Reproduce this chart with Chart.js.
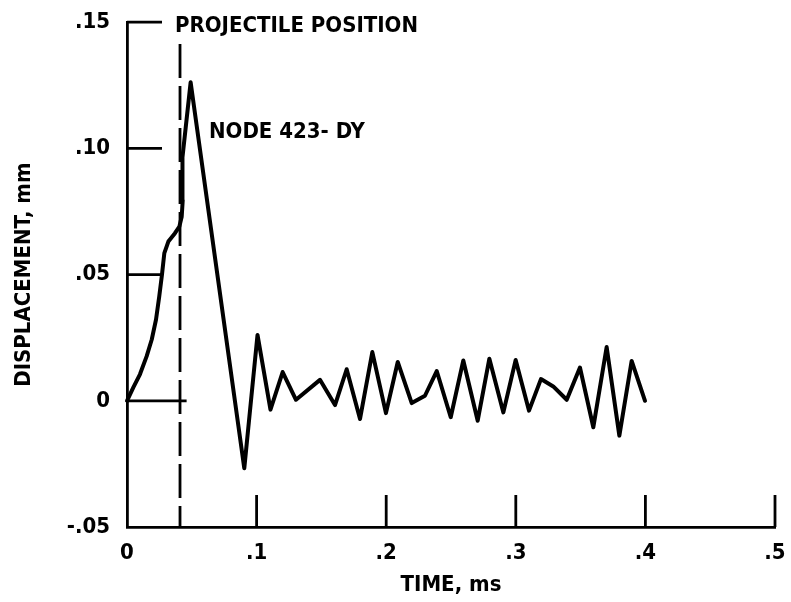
<!DOCTYPE html>
<html>
<head>
<meta charset="utf-8">
<script src="https://cdn.jsdelivr.net/npm/chart.js@4.4.1/dist/chart.umd.min.js"></script>
<style>
html,body{margin:0;padding:0;background:#fff;}
#wrap{width:791px;height:602px;position:relative;}
</style>
</head>
<body>
<div id="wrap"><canvas id="c" width="791" height="602"></canvas></div>
<script>
// ---- data ----
const timeMs = [0, 0.0049, 0.0100, 0.0152, 0.0191, 0.0224, 0.0249, 0.0270, 0.0288, 0.0319, 0.0370, 0.0404, 0.0422, 0.0430, 0.0428, 0.0491,
  0.0905, 0.1007, 0.1107, 0.1201, 0.1304, 0.1489, 0.1605, 0.1695, 0.1798, 0.1893, 0.1998, 0.2089, 0.2197, 0.2299,
  0.2390, 0.2498, 0.2595, 0.2706, 0.2796, 0.2904, 0.2999, 0.3102, 0.3194, 0.3289, 0.3393, 0.3495, 0.3598, 0.3701,
  0.3799, 0.3894, 0.3997];
const dispMm = [0, 0.0053, 0.0105, 0.0177, 0.0243, 0.0322, 0.0414, 0.0500, 0.0585, 0.0631, 0.0664, 0.0690, 0.0729, 0.0795, 0.0965, 0.1262,
  -0.0267, 0.0261, -0.0035, 0.0114, 0.0004, 0.0083, -0.0017, 0.0125, -0.0072, 0.0193, -0.0049, 0.0154, -0.0009, 0.0020,
  0.0118, -0.0065, 0.0160, -0.0079, 0.0167, -0.0046, 0.0162, -0.0039, 0.0086, 0.0057, 0.0004, 0.0132, -0.0105, 0.0213,
  -0.0138, 0.0158, 0.0000];
const projectileTime = [0.0409, 0.0409];
const projectileDisp = [0.1414, -0.05];
const zeroLineTime = [0, 0.046];
const zeroLineDisp = [0, 0];
const xTickValues = [0, 0.1, 0.2, 0.3, 0.4, 0.5];
const xTickLabels = ['0', '.1', '.2', '.3', '.4', '.5'];
const yTickValues = [-0.05, 0, 0.05, 0.10, 0.15];
const yTickLabels = ['-.05', '0', '.05', '.10', '.15'];
const xTitle = 'TIME, ms';
const yTitle = 'DISPLACEMENT, mm';
const curveLabel = 'NODE 423- DY';
const projectileLabel = 'PROJECTILE POSITION';

// ---- chart ----
const FAMILY = '"Liberation Sans Narrow", "DejaVu Sans Condensed", "Arial Narrow", sans-serif';
const toPts = (xs, ys) => xs.map((x, i) => ({x: x, y: ys[i]}));
const labelFor = (vals, labels, v) => {
  const i = vals.findIndex(t => Math.abs(t - v) < 1e-9);
  return i >= 0 ? labels[i] : '';
};

const annotate = {
  id: 'annotate',
  afterDatasetsDraw(chart) {
    const {ctx, chartArea} = chart;
    const x = chart.scales.x, y = chart.scales.y;
    ctx.save();
    ctx.strokeStyle = '#000';
    ctx.lineWidth = 2.8;
    ctx.lineCap = 'butt';
    // inward ticks on the displacement axis
    yTickValues.forEach(v => {
      if (v <= y.min || v === 0) return;
      const py = y.getPixelForValue(v);
      ctx.beginPath();
      ctx.moveTo(chartArea.left, py);
      ctx.lineTo(chartArea.left + 35, py);
      ctx.stroke();
    });
    // upward ticks on the time axis
    xTickValues.forEach(v => {
      if (v <= x.min) return;
      const px = x.getPixelForValue(v);
      ctx.beginPath();
      ctx.moveTo(px, chartArea.bottom);
      ctx.lineTo(px, chartArea.bottom - 32);
      ctx.stroke();
    });
    ctx.fillStyle = '#000';
    ctx.font = 'bold 22px ' + FAMILY;
    ctx.textAlign = 'left';
    ctx.textBaseline = 'middle';
    ctx.fillText(projectileLabel, x.getPixelForValue(0.037), y.getPixelForValue(0.1485));
    ctx.fillText(curveLabel, x.getPixelForValue(0.0633), y.getPixelForValue(0.1063));
    ctx.restore();
  }
};

new Chart(document.getElementById('c'), {
  type: 'line',
  data: {
    datasets: [
      {
        label: curveLabel,
        data: toPts(timeMs, dispMm),
        borderColor: '#000',
        borderWidth: 4,
        pointRadius: 0,
        tension: 0,
        borderJoinStyle: 'round',
        borderCapStyle: 'round',
        fill: false,
        clip: false
      },
      {
        label: projectileLabel,
        data: toPts(projectileTime, projectileDisp),
        borderColor: '#000',
        borderWidth: 2.8,
        borderDash: [34, 8],
        pointRadius: 0,
        fill: false,
        clip: false
      },
      {
        label: 'zero',
        data: toPts(zeroLineTime, zeroLineDisp),
        borderColor: '#000',
        borderWidth: 2.8,
        pointRadius: 0,
        fill: false,
        clip: false
      }
    ]
  },
  options: {
    responsive: false,
    devicePixelRatio: 1,
    animation: false,
    events: [],
    layout: {padding: {top: 20, right: 16, left: 0, bottom: 0}},
    plugins: {legend: {display: false}, tooltip: {enabled: false}},
    scales: {
      x: {
        type: 'linear',
        min: 0,
        max: 0.5,
        afterBuildTicks: s => { s.ticks = xTickValues.map(v => ({value: v})); },
        afterFit: s => { s.height = 75; },
        grid: {display: false},
        border: {display: true, color: '#000', width: 2.8},
        ticks: {
          autoSkip: false,
          maxRotation: 0,
          padding: 5,
          color: '#000',
          font: {family: FAMILY, size: 22, weight: 'bold'},
          callback: v => labelFor(xTickValues, xTickLabels, v)
        },
        title: {
          display: true,
          text: xTitle,
          color: '#000',
          font: {family: FAMILY, size: 22, weight: 'bold'},
          padding: {top: 0, bottom: 4}
        }
      },
      y: {
        type: 'linear',
        min: -0.05,
        max: 0.15,
        afterBuildTicks: s => { s.ticks = yTickValues.map(v => ({value: v})); },
        afterFit: s => { s.width = 127; },
        grid: {display: false},
        border: {display: true, color: '#000', width: 2.8},
        ticks: {
          padding: 9,
          color: '#000',
          font: {family: FAMILY, size: 22, weight: 'bold'},
          callback: v => labelFor(yTickValues, yTickLabels, v)
        },
        title: {
          display: true,
          text: yTitle,
          color: '#000',
          font: {family: FAMILY, size: 22, weight: 'bold'},
          padding: {top: 11, bottom: 0}
        }
      }
    }
  },
  plugins: [annotate]
});
</script>
</body>
</html>
